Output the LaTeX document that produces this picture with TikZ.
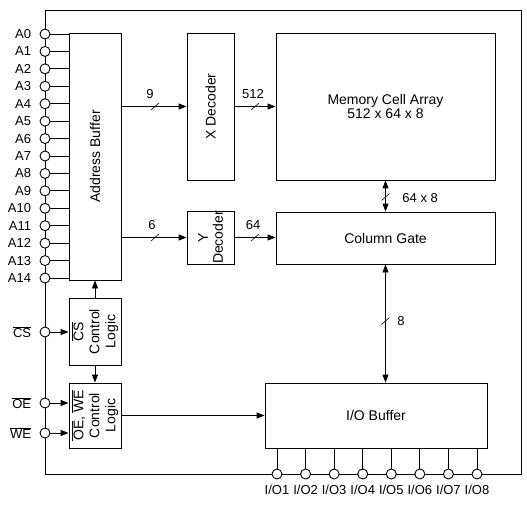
\documentclass[tikz,border=0pt]{standalone}
\usepackage{fontspec}
\setmainfont{Liberation Sans}
\usetikzlibrary{arrows.meta}
\begin{document}
\begin{tikzpicture}[x=1pt,y=-1pt,
  line width=0.9pt,
  box/.style={draw, rectangle, inner sep=0pt},
  txt/.style={font=\fontsize{14}{14.5}\selectfont, align=center, inner sep=0pt},
  ctxt/.style={font=\fontsize{14}{16}\selectfont, align=center, inner sep=0pt},
  pin/.style={draw, circle, minimum size=10pt, inner sep=0pt, fill=white},
  arr/.style={-{Triangle[length=8pt,width=6pt]}},
  darr/.style={{Triangle[length=8pt,width=6pt]}-{Triangle[length=8pt,width=6pt]}},
  lbl/.style={font=\fontsize{13}{14}\selectfont, inner sep=0pt},
  slash/.pic={\draw[line width=0.6pt] (-4,3.5) -- (4,-3.5);}
  ]
\useasboundingbox (0,0) rectangle (527,505);

% outer frame
\coordinate (ftl) at (45,10);
\coordinate (ftr) at (521,10);
\coordinate (fbr) at (521,474);
\coordinate (fbl) at (45,474);
\draw (fbl) -- (ftl) -- (ftr) -- (fbr) -- cycle;

% boxes
\node[box, minimum width=52pt, minimum height=247pt] (addr) at (95,156.5) {};
\node[txt, rotate=90] (addrt) at (addr.center) {Address Buffer};
\node[box, minimum width=47pt, minimum height=147pt] (xdec) at (210.5,106.5) {};
\node[txt, rotate=90] (xdect) at (xdec.center) {X Decoder};
\node[box, minimum width=47pt, minimum height=53pt] (ydec) at (210.5,237.5) {};
\node[ctxt, rotate=90, font=\fontsize{14}{15}\selectfont] (ydect) at (ydec.center) {Y\\Decoder};
\node[box, minimum width=219pt, minimum height=147pt] (mem) at (385.5,106.5) {};
\node[txt] (memt) at (mem.center) {Memory Cell Array\\512 x 64 x 8};
\node[box, minimum width=219pt, minimum height=52pt] (col) at (385.5,238) {};
\node[txt] (colt) at (col.center) {Column Gate};
\node[box, minimum width=222pt, minimum height=65pt] (io) at (376,415.5) {};
\node[txt] (iot) at (io.center) {I/O Buffer};
\node[box, minimum width=52pt, minimum height=67pt] (csl) at (95,331.5) {};
\node[ctxt, rotate=90] (cslt) at (csl.center) {$\overline{\hbox{CS}}$\\Control\\Logic};
\node[box, minimum width=52pt, minimum height=65pt] (oel) at (95,415.5) {};
\node[ctxt, rotate=90] (oelt) at (oel.center) {$\overline{\hbox{OE}}$, $\overline{\hbox{WE}}$\\Control\\Logic};

% address pins
\foreach \i in {0,...,14} {
  \node[pin, label={[lbl, label distance=8pt]left:A\i}] (pA\i) at (45,{34+17.43*\i}) {};
  \draw (pA\i.east) -- (pA\i.east -| addr.west);
}

% control pins
\node[pin, label={[lbl, label distance=8pt]left:$\overline{\hbox{CS}}$}] (pCS) at (45,332) {};
\node[pin, label={[lbl, label distance=8pt]left:$\overline{\hbox{OE}}$}] (pOE) at (45,403) {};
\node[pin, label={[lbl, label distance=8pt]left:$\overline{\hbox{WE}}$}] (pWE) at (45,433) {};
\draw[arr] (pCS.east) -- (pCS.east -| csl.west);
\draw[arr] (pOE.east) -- (pOE.east -| oel.west);
\draw[arr] (pWE.east) -- (pWE.east -| oel.west);

% I/O pins
\foreach \i in {1,...,8} {
  \node[pin, label={[lbl, label distance=5pt]below:I/O\i}] (pIO\i) at ({277+28.57*(\i-1)},474) {};
  \draw (io.south -| pIO\i) -- (pIO\i.north);
}

% internal connectors
\draw[arr] (addr.east |- xdec.west) -- (xdec.west);
\pic at (155,106.5) {slash};
\node[lbl] (l9) at (150,94) {9};

\draw[arr] (xdec.east) -- (mem.west);
\pic at (255,106.5) {slash};
\node[lbl] (l512) at (253,94) {512};

\draw[arr] (addr.east |- ydec.west) -- (ydec.west);
\pic at (155,237.5) {slash};
\node[lbl] (l6) at (152,225) {6};

\draw[arr] (ydec.east) -- (ydec.east -| col.west);
\pic at (255,237.5) {slash};
\node[lbl] (l64) at (253,225) {64};

\draw[darr] (mem.south) -- (col.north);
\pic at (385.5,197) {slash};
\node[lbl, anchor=west] (l648) at (402,198) {64 x 8};

\draw[darr] (col.south) -- (col.south |- io.north);
\pic at (385.5,321) {slash};
\node[lbl] (l8) at (401,321) {8};

\draw[arr] (csl.north) -- (addr.south);
\draw[arr] (csl.south) -- (oel.north);
\draw[arr] (oel.east) -- (io.west);

\end{tikzpicture}
\end{document}
